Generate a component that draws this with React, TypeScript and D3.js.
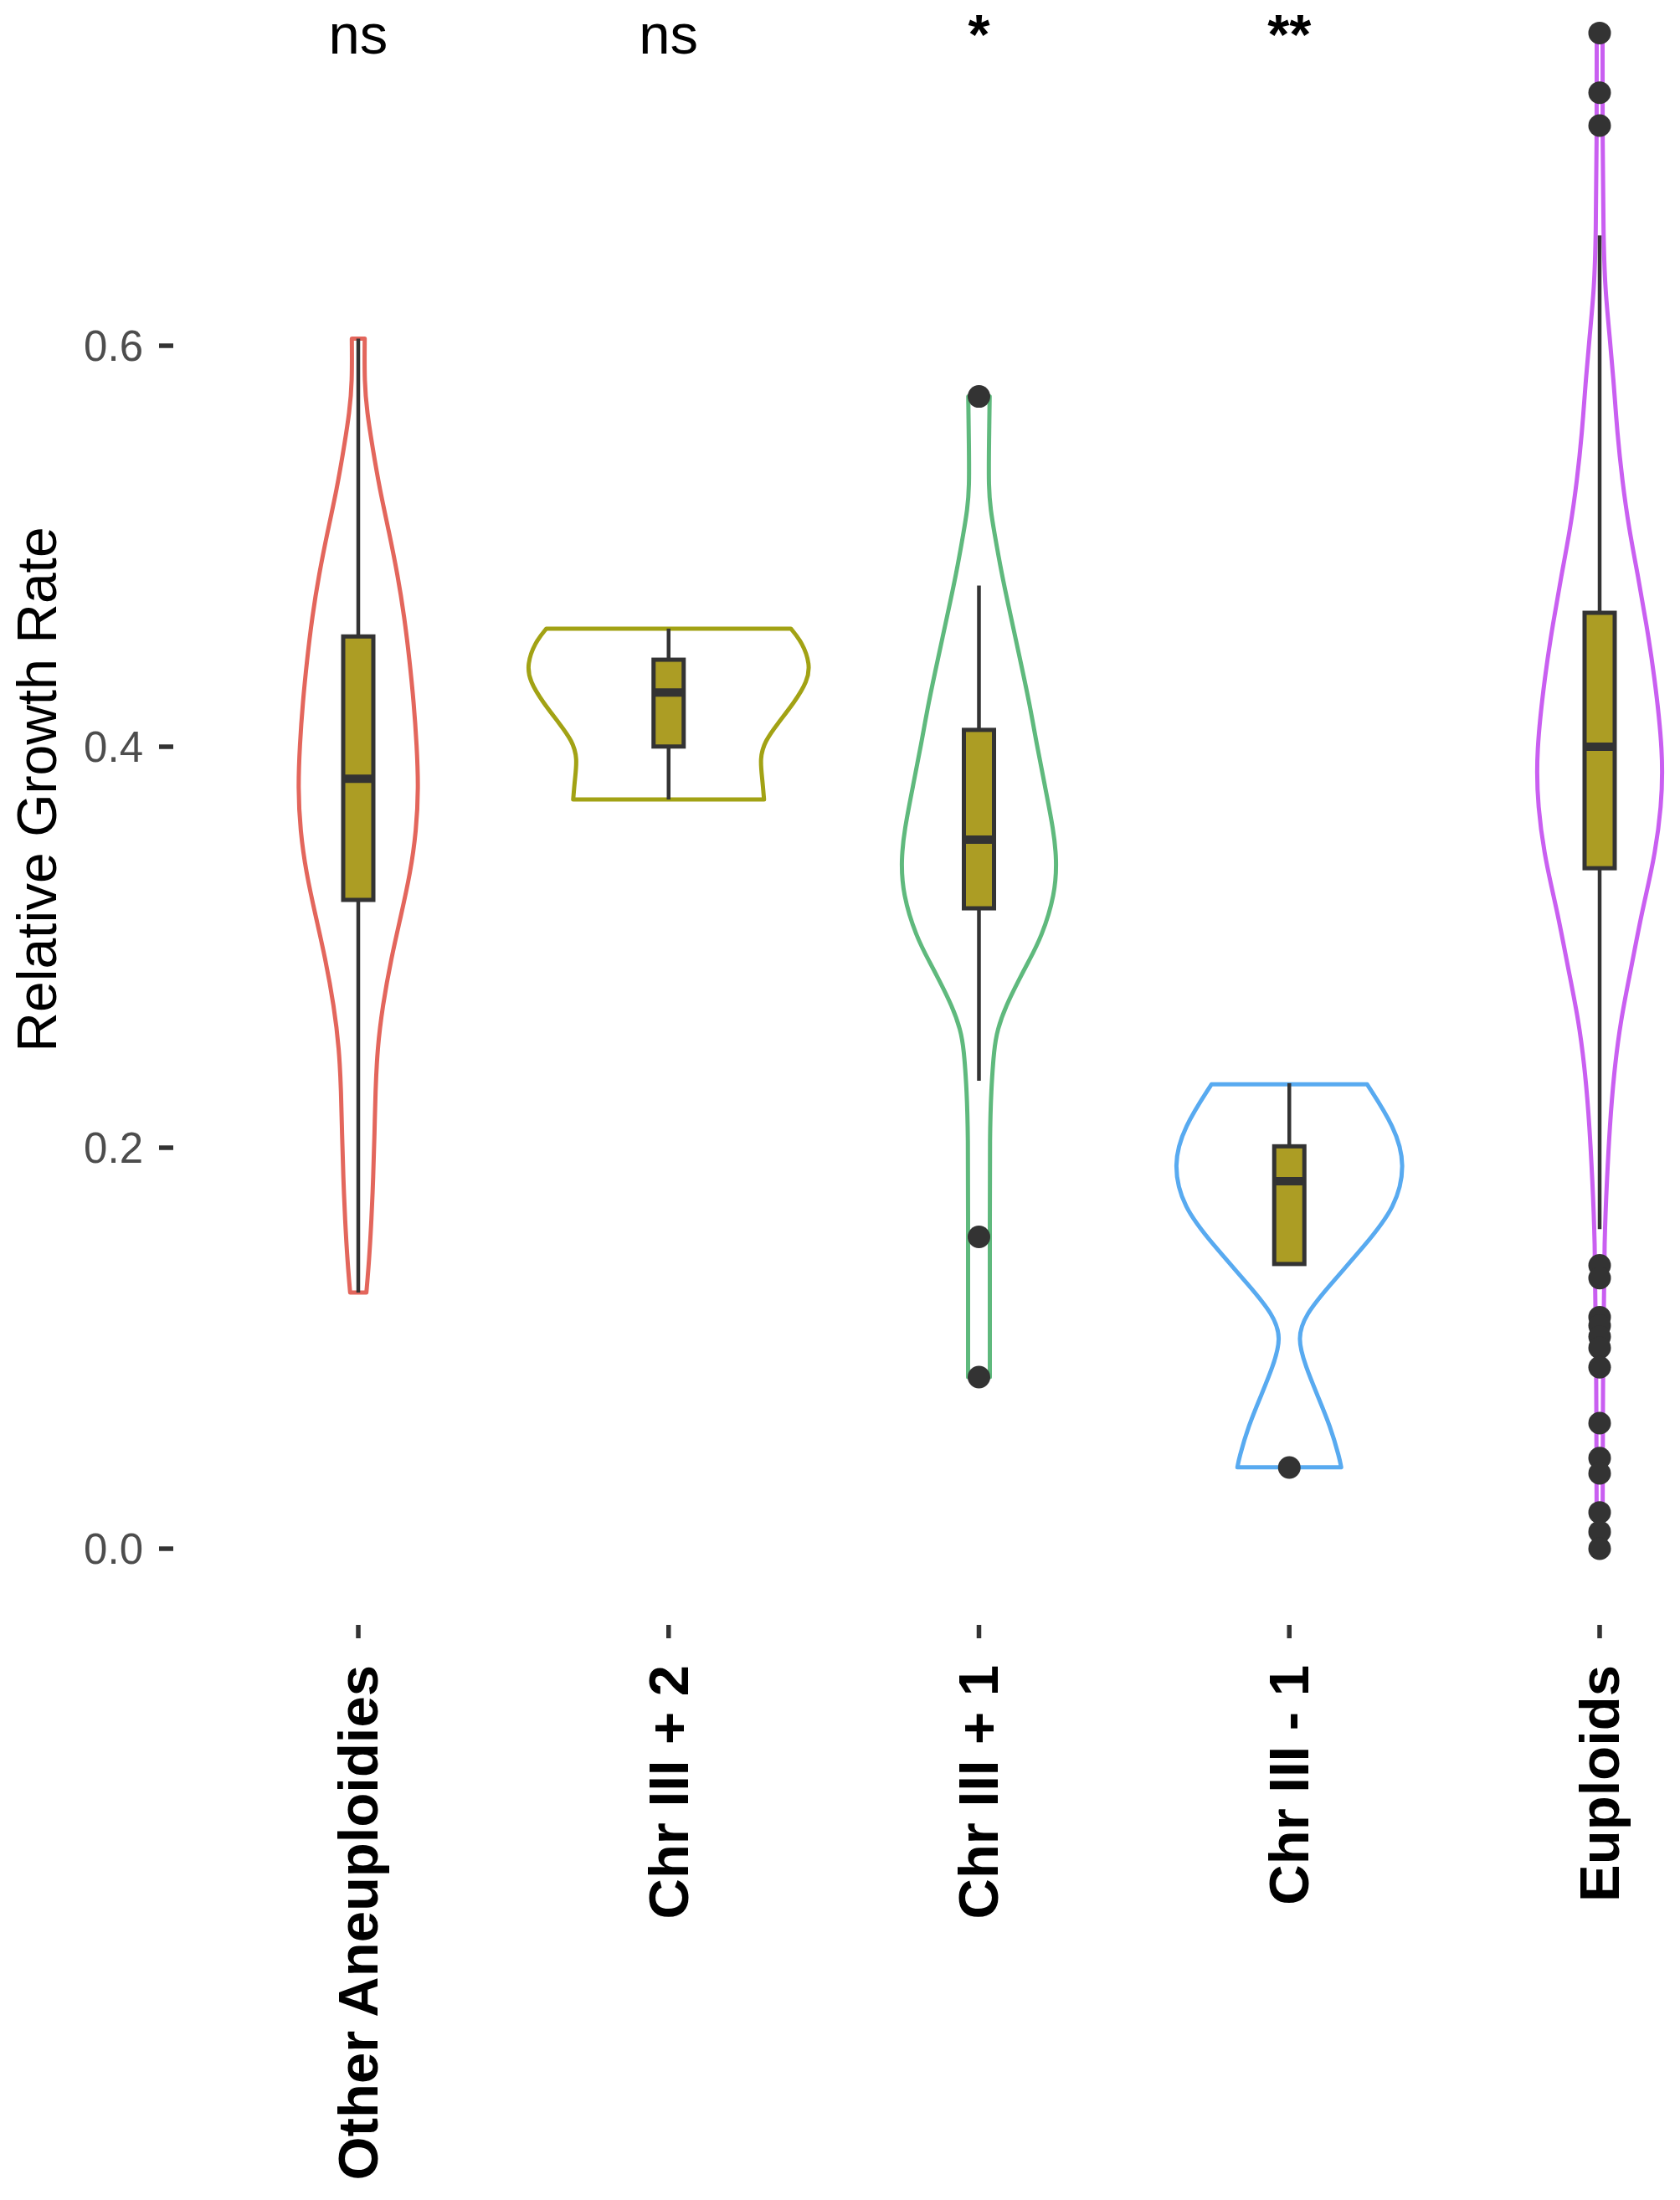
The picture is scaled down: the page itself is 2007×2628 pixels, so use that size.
import * as d3 from "d3";
import * as React from "react";

// groups along the x axis
const categories = ["Other Aneuploidies", "Chr III + 2", "Chr III + 1", "Chr III - 1", "Euploids"];
const significance = ["ns", "ns", "*", "**", ""];
const violinColors = ["#E3665C", "#A2A214", "#5FB97D", "#58AAF0", "#C95FF1"];

// violin outlines: [growth rate, relative density]
const violinOther: [number, number][] = [
    [0.6035, 0.077], [0.5818, 0.073], [0.5669, 0.105], [0.5499, 0.168], [0.5286, 0.255],
    [0.5073, 0.367], [0.486, 0.469], [0.4647, 0.551], [0.4434, 0.612], [0.4221, 0.663],
    [0.4008, 0.699], [0.3795, 0.719], [0.3582, 0.694], [0.337, 0.622], [0.3157, 0.51],
    [0.2944, 0.393], [0.2706, 0.29], [0.2493, 0.228], [0.228, 0.205], [0.2067, 0.194],
    [0.1854, 0.179], [0.164, 0.158], [0.1428, 0.128], [0.1278, 0.097],
];
const violinChr3Plus2: [number, number][] = [
    [0.4589, 1.46], [0.4518, 1.6], [0.4412, 1.69], [0.4327, 1.66], [0.422, 1.5],
    [0.4114, 1.3], [0.4028, 1.15], [0.3943, 1.09], [0.3837, 1.12], [0.3737, 1.14],
];
const violinChr3Plus1: [number, number][] = [
    [0.5747, 0.128], [0.5514, 0.12], [0.529, 0.115], [0.518, 0.14], [0.5077, 0.18],
    [0.4864, 0.27], [0.4651, 0.38], [0.4438, 0.49], [0.4225, 0.6], [0.4013, 0.69],
    [0.38, 0.79], [0.3587, 0.89], [0.3436, 0.93], [0.3265, 0.91], [0.3052, 0.75],
    [0.2919, 0.58], [0.2839, 0.48], [0.2706, 0.32], [0.2589, 0.22], [0.2493, 0.18],
    [0.228, 0.145], [0.2067, 0.13], [0.1641, 0.13], [0.1211, 0.13], [0.0856, 0.13],
];
const violinChr3Minus1: [number, number][] = [
    [0.2316, 0.93], [0.2103, 1.26], [0.1916, 1.39], [0.1703, 1.27], [0.1516, 0.91],
    [0.1303, 0.46], [0.1171, 0.2], [0.1051, 0.09], [0.0904, 0.2], [0.0771, 0.33],
    [0.0611, 0.49], [0.0452, 0.6], [0.0406, 0.62],
];
const violinEuploids: [number, number][] = [
    [0.7557, 0.035], [0.70, 0.035], [0.655, 0.045], [0.629, 0.064], [0.6046, 0.12],
    [0.5807, 0.17], [0.5567, 0.21], [0.5328, 0.27], [0.5088, 0.35], [0.4848, 0.46],
    [0.4608, 0.56], [0.4369, 0.65], [0.3967, 0.76], [0.37, 0.74], [0.3433, 0.65],
    [0.3169, 0.5], [0.2902, 0.38], [0.2635, 0.25], [0.2369, 0.17], [0.2103, 0.12],
    [0.1837, 0.087], [0.157, 0.058], [0.10, 0.04], [0.0, 0.035],
];
const violins = [violinOther, violinChr3Plus2, violinChr3Plus1, violinChr3Minus1, violinEuploids];

// box plot statistics per group
const whiskerLow = [0.1278, 0.3737, 0.2334, 0.142, 0.1594];
const quartile1 = [0.3236, 0.4001, 0.3194, 0.142, 0.3394];
const medians = [0.384, 0.427, 0.3537, 0.1833, 0.400];
const quartile3 = [0.455, 0.4434, 0.4084, 0.2007, 0.4668];
const whiskerHigh = [0.6035, 0.4589, 0.4804, 0.2322, 0.655];
const outliers: number[][] = [
    [],
    [],
    [0.5747, 0.1555, 0.0856],
    [0.0405],
    [0.756, 0.7262, 0.7098, 0.1413, 0.135, 0.1155, 0.1113, 0.1057, 0.1002, 0.0905,
        0.0626, 0.0452, 0.0376, 0.0181, 0.0084, 0.0],
];

const yTicks = [0.0, 0.2, 0.4, 0.6];

const WIDTH = 2007;
const HEIGHT = 2628;
const FONT = "'Liberation Sans', Arial, Helvetica, sans-serif";

export default function App() {
    const x = d3.scalePoint<string>().domain(categories).range([428, 1911]);
    const y = d3.scaleLinear().domain([0, 0.6]).range([1850, 413]);
    const w = d3.scaleLinear().domain([0, 1]).range([0, 100]); // density -> half width

    const boxHalf = 18;

    return (
        <svg width={WIDTH} height={HEIGHT}
             style={{ position: "absolute", left: 0, top: 0, background: "white" }}
             fontFamily={FONT}>
            {/* y axis */}
            <g>
                {yTicks.map(t => (
                    <g key={t}>
                        <line x1={190} x2={207} y1={y(t)} y2={y(t)} stroke="#333" strokeWidth={5.5} />
                        <text x={171} y={y(t)} dy="0.36em" textAnchor="end" fontSize={51} fill="#4D4D4D">
                            {d3.format(".1f")(t)}
                        </text>
                    </g>
                ))}
                <text transform={`translate(67,943) rotate(-90)`} textAnchor="middle" fontSize={66} fill="#000">
                    Relative Growth Rate
                </text>
            </g>

            {/* x axis */}
            <g>
                {categories.map(c => (
                    <g key={c}>
                        <line x1={x(c)} x2={x(c)} y1={1941} y2={1957} stroke="#333" strokeWidth={5.5} />
                        <text transform={`translate(${x(c)},1989) rotate(-90)`} dy="0.34em" textAnchor="end"
                              fontSize={67} fontWeight="bold" fill="#000">
                            {c}
                        </text>
                    </g>
                ))}
            </g>

            {/* violins */}
            {categories.map((c, i) => {
                const cx = x(c) as number;
                const area = d3.area<[number, number]>()
                    .y(d => y(d[0]))
                    .x0(d => cx - w(d[1]))
                    .x1(d => cx + w(d[1]))
                    .curve(d3.curveBasis);
                return (
                    <path key={c} d={area(violins[i]) ?? ""} fill="none"
                          stroke={violinColors[i]} strokeWidth={5} strokeLinejoin="round" />
                );
            })}

            {/* boxplots */}
            {categories.map((c, i) => {
                const cx = x(c) as number;
                return (
                    <g key={c}>
                        <line x1={cx} x2={cx} y1={y(whiskerHigh[i])} y2={y(quartile3[i])} stroke="#333" strokeWidth={4.5} />
                        <line x1={cx} x2={cx} y1={y(quartile1[i])} y2={y(whiskerLow[i])} stroke="#333" strokeWidth={4.5} />
                        <rect x={cx - boxHalf} width={boxHalf * 2} y={y(quartile3[i])}
                              height={y(quartile1[i]) - y(quartile3[i])}
                              fill="#AC9D24" stroke="#333" strokeWidth={5} />
                        <line x1={cx - boxHalf} x2={cx + boxHalf} y1={y(medians[i])} y2={y(medians[i])}
                              stroke="#333" strokeWidth={10} />
                        {outliers[i].map((o, k) => (
                            <circle key={k} cx={cx} cy={y(o)} r={13.5} fill="#333" />
                        ))}
                    </g>
                );
            })}

            {/* significance labels */}
            {categories.map((c, i) => (
                <text key={c} x={x(c)} y={64} textAnchor="middle" fontSize={67} fill="#000"
                      fontWeight={significance[i].startsWith("*") ? "bold" : "normal"}>
                    {significance[i]}
                </text>
            ))}
        </svg>
    );
}
